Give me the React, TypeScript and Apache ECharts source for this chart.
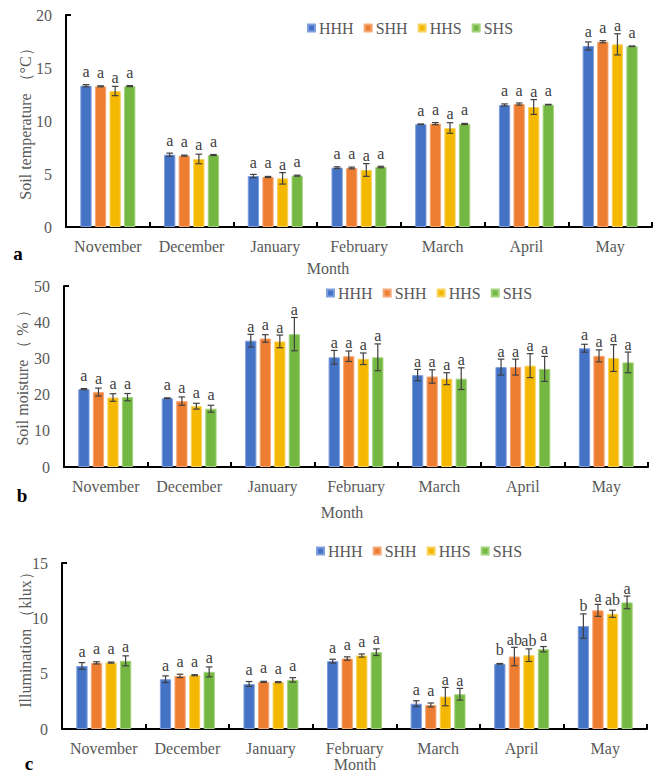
import React, { useEffect, useRef } from "react";
import * as echarts from "echarts";

// Months on every category axis
const months = ["November", "December", "January", "February", "March", "April", "May"];
// Treatments (one bar per treatment in each month)
const treatments = ["HHH", "SHH", "HHS", "SHS"];

// Soil temperature (°C): rows follow treatments, columns follow months
const tempMeans = [
  [13.33, 6.82, 4.81, 5.6, 9.69, 11.51, 17.08],
  [13.27, 6.73, 4.72, 5.57, 9.75, 11.6, 17.48],
  [12.83, 6.42, 4.59, 5.38, 9.34, 11.32, 17.23],
  [13.29, 6.79, 4.84, 5.66, 9.72, 11.54, 17.05],
];
const tempErrors = [
  [0.1, 0.15, 0.15, 0.08, 0.03, 0.1, 0.38],
  [0.05, 0.05, 0.05, 0.08, 0.1, 0.1, 0.1],
  [0.44, 0.45, 0.54, 0.6, 0.5, 0.7, 1.0],
  [0.05, 0.05, 0.05, 0.07, 0.05, 0.03, 0.03],
];
const tempLetters = [
  ["a", "a", "a", "a", "a", "a", "a"],
  ["a", "a", "a", "a", "a", "a", "a"],
  ["a", "a", "a", "a", "a", "a", "a"],
  ["a", "a", "a", "a", "a", "a", "a"],
];

// Soil moisture (%)
const moistMeans = [
  [21.5, 19.0, 34.9, 30.3, 25.4, 27.6, 32.8],
  [20.7, 18.2, 35.5, 30.6, 25.0, 27.6, 30.7],
  [19.2, 16.8, 34.7, 29.9, 24.4, 28.0, 30.1],
  [19.3, 16.1, 36.7, 30.3, 24.4, 27.1, 28.9],
];
const moistErrors = [
  [0.15, 0.1, 1.75, 1.9, 1.55, 2.2, 1.1],
  [1.1, 1.15, 1.05, 1.45, 1.85, 2.2, 1.65],
  [1.05, 0.8, 1.75, 1.6, 1.65, 3.3, 3.7],
  [1.0, 0.95, 4.6, 3.7, 3.0, 3.45, 2.85],
];
const moistLetters = [
  ["a", "a", "a", "a", "a", "a", "a"],
  ["a", "a", "a", "a", "a", "a", "a"],
  ["a", "a", "a", "a", "a", "a", "a"],
  ["a", "a", "a", "a", "a", "a", "a"],
];

// Illumination (klux)
const lightMeans = [
  [5.7, 4.5, 4.07, 6.13, 2.29, 5.89, 9.3],
  [5.98, 4.8, 4.26, 6.37, 2.17, 6.55, 10.72],
  [6.0, 4.86, 4.23, 6.64, 2.93, 6.67, 10.41],
  [6.16, 5.16, 4.44, 6.94, 3.14, 7.21, 11.44],
];
const lightErrors = [
  [0.3, 0.3, 0.22, 0.17, 0.26, 0.03, 1.1],
  [0.1, 0.15, 0.05, 0.15, 0.18, 0.83, 0.54],
  [0.05, 0.05, 0.05, 0.14, 0.83, 0.57, 0.32],
  [0.45, 0.45, 0.2, 0.3, 0.53, 0.24, 0.57],
];
const lightLetters = [
  ["a", "a", "a", "a", "a", "b", "b"],
  ["a", "a", "a", "a", "a", "ab", "a"],
  ["a", "a", "a", "a", "a", "ab", "ab"],
  ["a", "a", "a", "a", "a", "a", "a"],
];

// Y axis ranges
const yMax = [20, 50, 15];
const yStep = [5, 10, 5];

const FONT = "'Times New Roman', 'Liberation Serif', serif";
const COLORS = ["#4472C4", "#ED7D31", "#F4B800", "#74B843"];
const BORDERS = ["#7f9ede", "#f5a877", "#f8d35f", "#a2d27c"];
const TEXT = "#595959";
const BAR_W = 0.135;
const BAR_GAP = 0.29;

// Panel geometry
const panels = [
  {
    left: 66, top: 15, width: 586, height: 212,
    legend: { left: 307, top: 20 },
    yName: "Soil temperature （°C）", yNamePos: [25, 120],
    monthPos: [328, 268], tag: "a", tagPos: [18, 253],
  },
  {
    left: 64, top: 286, width: 584, height: 181,
    legend: { left: 326, top: 285 },
    yName: "Soil moisture （ % ）", yNamePos: [22, 374],
    monthPos: [342, 512], tag: "b", tagPos: [22, 495],
  },
  {
    left: 62, top: 563, width: 585, height: 166,
    legend: { left: 316, top: 543 },
    yName: "Illumination （klux）", yNamePos: [25, 636],
    monthPos: [355, 764], tag: "c", tagPos: [29, 763],
  },
];

const meansAll = [tempMeans, moistMeans, lightMeans];
const errorsAll = [tempErrors, moistErrors, lightErrors];
const lettersAll = [tempLetters, moistLetters, lightLetters];

function buildOption() {
  const grid: any[] = [];
  const xAxis: any[] = [];
  const yAxis: any[] = [];
  const legend: any[] = [];
  const series: any[] = [];
  const graphic: any[] = [];

  panels.forEach((p, gi) => {
    grid.push({
      left: p.left, top: p.top, width: p.width, height: p.height,
      containLabel: false, outerBoundsMode: "none",
    });
    xAxis.push({
      type: "category", gridIndex: gi, data: months,
      axisLine: { show: true, lineStyle: { color: "#000", width: 2 } },
      axisTick: { show: true, inside: true, length: 5, alignWithLabel: false, lineStyle: { color: "#000", width: 2 } },
      axisLabel: { color: TEXT, fontSize: 16, fontFamily: FONT, margin: 11, interval: 0 },
      splitLine: { show: false },
    });
    yAxis.push({
      type: "value", gridIndex: gi, min: 0, max: yMax[gi], interval: yStep[gi],
      axisLine: { show: true, lineStyle: { color: "#000", width: 2 } },
      axisTick: { show: false },
      axisLabel: { color: TEXT, fontSize: 16, fontFamily: FONT, margin: 14 },
      splitLine: { show: false },
    });
    legend.push({
      data: treatments, left: p.legend.left, top: p.legend.top, orient: "horizontal",
      icon: "rect", itemWidth: 7, itemHeight: 7, itemGap: 10, padding: 0,
      textStyle: { color: TEXT, fontSize: 16, fontFamily: FONT, padding: [0, 0, 0, -1] },
      selectedMode: false,
    });

    treatments.forEach((name, s) => {
      series.push({
        type: "bar", name, xAxisIndex: gi, yAxisIndex: gi,
        data: meansAll[gi][s],
        barWidth: BAR_W * 100 + "%", barGap: BAR_GAP * 100 + "%",
        itemStyle: { color: COLORS[s], borderColor: BORDERS[s], borderWidth: 1 },
      });
    });

    treatments.forEach((name, s) => {
      const means = meansAll[gi][s];
      const errs = errorsAll[gi][s];
      const letters = lettersAll[gi][s];
      series.push({
        type: "custom", name: "err-" + name, xAxisIndex: gi, yAxisIndex: gi, z: 5,
        data: means.map((m, i) => [i, m, errs[i]]),
        encode: { x: 0, y: 1 },
        renderItem: (params: any, api: any) => {
          const cat = api.value(0);
          const mean = api.value(1);
          const err = api.value(2);
          const band = api.size([1, 0])[0];
          const w = band * BAR_W;
          const offset = (s - 1.5) * (w * (1 + BAR_GAP));
          const base = api.coord([cat, mean]);
          const x = base[0] + offset;
          const yTop = api.coord([cat, mean + err])[1];
          const yBot = api.coord([cat, mean - err])[1];
          const cap = 3.3;
          const ly = Math.min(base[1] - 14, yTop - 8);
          const st = { stroke: "#404040", lineWidth: 1.2 };
          return {
            type: "group",
            children: [
              { type: "line", shape: { x1: x, y1: yTop, x2: x, y2: yBot }, style: st },
              { type: "line", shape: { x1: x - cap, y1: yTop, x2: x + cap, y2: yTop }, style: st },
              { type: "line", shape: { x1: x - cap, y1: yBot, x2: x + cap, y2: yBot }, style: st },
              {
                type: "text", x, y: ly,
                style: {
                  text: letters[params.dataIndex], fill: "#404040",
                  fontSize: 16, fontFamily: FONT, align: "center", verticalAlign: "middle",
                },
              },
            ],
          };
        },
      });
    });

    // small cap at the top of the value axis
    graphic.push({
      type: "line", silent: true,
      shape: { x1: p.left, y1: p.top, x2: p.left + 5, y2: p.top },
      style: { stroke: "#000", lineWidth: 2 },
    });
    graphic.push({
      type: "text", x: p.yNamePos[0], y: p.yNamePos[1], rotation: Math.PI / 2,
      style: { text: p.yName, fill: TEXT, fontSize: 16, fontFamily: FONT, align: "center", verticalAlign: "middle" },
    });
    graphic.push({
      type: "text", x: p.monthPos[0], y: p.monthPos[1],
      style: { text: "Month", fill: TEXT, fontSize: 16, fontFamily: FONT, align: "center", verticalAlign: "middle" },
    });
    graphic.push({
      type: "text", x: p.tagPos[0], y: p.tagPos[1],
      style: { text: p.tag, fill: "#000", fontSize: 19, fontWeight: "bold", fontFamily: FONT, align: "center", verticalAlign: "middle" },
    });
  });

  return {
    animation: false,
    backgroundColor: "#fff",
    grid, xAxis, yAxis, legend, series, graphic,
  };
}

export default function App() {
  const ref = useRef<HTMLDivElement>(null);
  useEffect(() => {
    if (!ref.current) return;
    const chart = echarts.init(ref.current, null, { renderer: "svg" });
    chart.setOption(buildOption() as any);
    return () => chart.dispose();
  }, []);
  return (
    <div
      ref={ref}
      style={{ position: "absolute", left: 0, top: 0, width: 669, height: 782, background: "#fff" }}
    />
  );
}
